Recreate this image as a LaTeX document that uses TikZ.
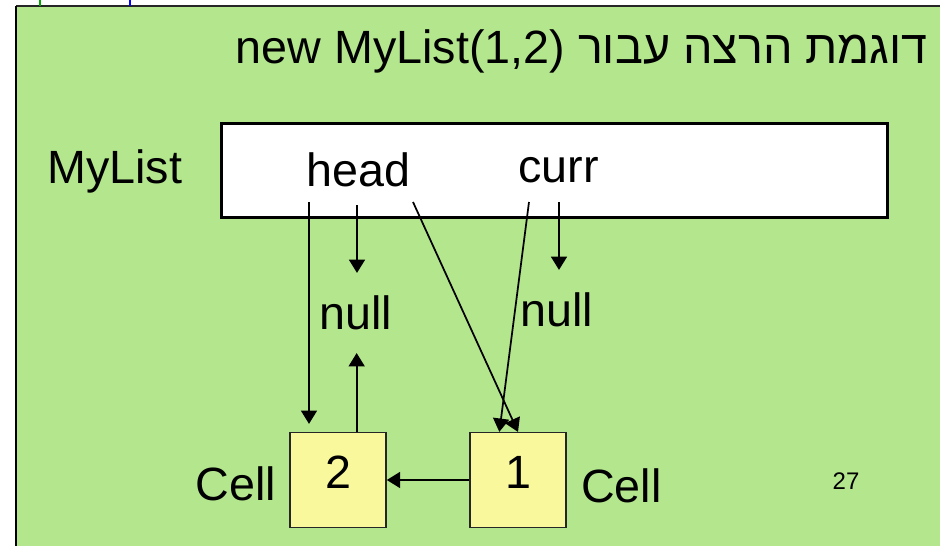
\documentclass[tikz,border=0pt]{standalone}
\usepackage{fontspec}
\setmainfont{Liberation Sans}
\newfontfamily\hebfont[Script=Hebrew]{Liberation Sans}
\TeXXeTstate=1
\usetikzlibrary{positioning,arrows.meta}
\definecolor{slidegreen}{RGB}{180,230,142}
\definecolor{cellyellow}{RGB}{250,248,156}
\tikzset{
  big/.style={font=\fontsize{35}{41}\selectfont,inner sep=0pt},
  nulltext/.style={big,inner ysep=17pt},
  cellbox/.style={big,draw=black!85,fill=cellyellow,line width=1.2pt,
    minimum width=72pt,minimum height=71pt,text depth=12pt},
  ptr/.style={-{Triangle[length=10pt,width=12pt]},line width=1.3pt}
}
\begin{document}
\begin{tikzpicture}[x=0.75pt,y=-0.75pt]
  \useasboundingbox (0,0) rectangle (940,546);
  \fill[slidegreen] (16,6) rectangle (940,546);
  \draw[black!85,line width=1.2pt] (16,6) -- (940,6);
  \draw[line width=2pt] (16,6) -- (16,546);
  \draw[green!65!black,line width=2.2pt] (40,0) -- (40,6);
  \draw[blue,line width=2pt] (130,0) -- (130,6);
  \node[big,anchor=base east] (title) at (928,63)
    {\hebfont\beginR דוגמת הרצה עבור \beginL new MyList(1,2)\endL\endR};
  \node[draw,fill=white,line width=2.2pt,minimum width=500pt,minimum height=71pt]
    (list) at (554.5,170.5) {};
  \node[big,anchor=base west] (mylist) at (47,183) {MyList};
  \node[big,anchor=base west] (head) at (306,186) {head};
  \node[big,anchor=base west] (curr) at (518,182) {curr};
  \node[nulltext] (nullh) at (356,313) {null};
  \node[nulltext] (nullc) at (557,310) {null};
  \node[cellbox] (cell2) at (338,480) {2};
  \node[cellbox] (cell1) at (518,480) {1};
  \node[big,left=9.5pt of cell2,yshift=-2.6pt] (lab2) {Cell};
  \node[big,right=10.5pt of cell1,yshift=-4.5pt] (lab1) {Cell};
  \node[font=\fontsize{18}{20}\selectfont] (page) at (846,481) {27};
  \coordinate (h1) at (309,202);
  \coordinate (h2) at (357,205);
  \coordinate (h3) at (413,202);
  \coordinate (c1) at (529,202);
  \coordinate (c2) at (559,202);
  \begin{scope}[ptr]
    \draw[shorten >=6pt] (h1) -- (h1 |- cell2.north);
    \draw (h2) -- (h2 |- nullh.north);
    \draw (h3) -- (cell1.north);
    \draw (c1) -- ([xshift=-14pt]cell1.north);
    \draw (c2) -- (c2 |- nullc.north);
    \draw ([xshift=14pt]cell2.north) -- ([xshift=14pt]cell2.north |- nullh.south);
    \draw (cell1.west) -- (cell2.east);
  \end{scope}
\end{tikzpicture}
\end{document}
